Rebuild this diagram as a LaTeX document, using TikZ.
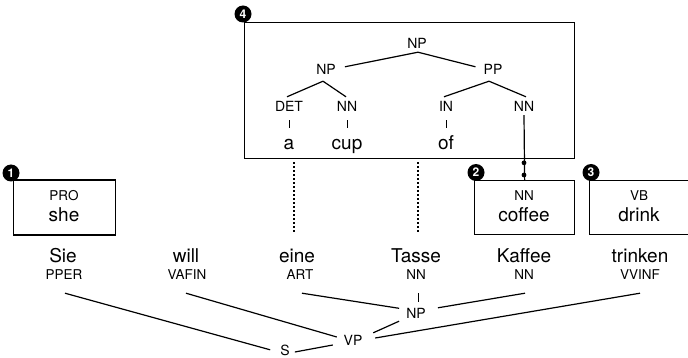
\documentclass[tikz,border=0pt]{standalone}
\usepackage{fontspec}
\setmainfont{TeX Gyre Heros}
\usetikzlibrary{calc}
\begin{document}
\begin{tikzpicture}[x=1pt,y=-1pt,
  word/.style={inner sep=0pt, anchor=base, font=\fontsize{19}{21}\selectfont, text height=14pt, text depth=4pt},
  tag/.style={inner sep=0pt, anchor=base, font=\fontsize{13.5}{15}\selectfont, text height=10pt, text depth=0pt},
  cat/.style={inner sep=0pt, anchor=base, font=\fontsize{14}{16}\selectfont, text height=10pt, text depth=0pt},
  edge/.style={line width=1.2pt},
  tick/.style={line width=1pt},
  dots/.style={line width=1.2pt, dash pattern=on 1.4pt off 2.6pt},
  frame/.style={draw, line width=1.3pt, inner sep=0pt, anchor=north west},
  badge/.style={circle, fill=black, text=white, inner sep=0pt, minimum size=17pt,
                font=\bfseries\fontsize{12}{12}\selectfont}]
\useasboundingbox (0,0) rectangle (688,358);

% ---- frames ----
\node[frame, minimum width=330pt, minimum height=136pt] (box4) at (244,22) {};
\node[frame, minimum width=102pt, minimum height=55pt] (box1) at (13,179.5) {};
\node[frame, minimum width=100pt, minimum height=54pt] (box2) at (474,180) {};
\node[frame, minimum width=100pt, minimum height=54pt] (box3) at (589,180) {};

% ---- English phrase tree ----
\node[cat] (npTop) at (417,49) {NP};
\node[cat] (npL) at (326,75) {NP};
\node[cat] (pp) at (493,75) {PP};
\node[cat] (det) at (289,112) {DET};
\node[cat] (nnA) at (347,112) {NN};
\node[cat] (in) at (446,112) {IN};
\node[cat] (nnB) at (524,112) {NN};
\node[word] (wa) at (289,150) {a};
\node[word] (wcup) at (347,150) {cup};
\node[word] (wof) at (446,150) {of};

\draw[edge] ($(npTop.south)+(1,3)$) -- ($(npL.north east)+(9,2)$);
\draw[edge] ($(npTop.south)+(1,3)$) -- ($(pp.north west)+(-8,2)$);
\draw[edge] ($(npL.south)+(-3,6)$) -- ($(det.north)+(-2,-5)$);
\draw[edge] ($(npL.south)+(-3,6)$) -- ($(nnA.north)+(-1,-5)$);
\draw[edge] ($(pp.south)+(-4,6)$) -- ($(in.north)+(-2,-5)$);
\draw[edge] ($(pp.south)+(-4,6)$) -- ($(nnB.north)+(2,-5)$);
\draw[tick] ($(det.south)+(0,8)$) -- ($(wa.north)+(0,-8)$);
\draw[tick] ($(nnA.south)+(0,8)$) -- ($(wcup.north)+(0,-8)$);
\draw[tick] ($(in.south)+(0,8)$) -- ($(wof.north)+(0,-8)$);

% link from the inner NN to the coffee box
\draw[edge] ($(nnB.south)+(0,3)$) -- (box2.north);
\fill ($(nnB.south |- box4.south)+(0,3.5)$) circle (2.4pt);
\fill ($(nnB.south |- box2.north)+(0,-5)$) circle (2.4pt);

% ---- box contents ----
\node[tag] (pro) at (64,201) {PRO};
\node[word] (she) at (64,221.5) {she};
\node[tag] (nnC) at (524,200.5) {NN};
\node[word] (coffee) at (524,221.5) {coffee};
\node[tag] (vb) at (639,200.5) {VB};
\node[word] (drink) at (639,221.5) {drink};

% ---- badges ----
\node[badge] (b1) at (11,173) {1};
\node[badge] (b2) at (476,172.5) {2};
\node[badge] (b3) at (591,172.5) {3};
\node[badge] (b4) at (243,14) {4};

% ---- German sentence ----
\node[word] (wSie) at (63,262) {Sie};
\node[word] (wWill) at (186,262) {will};
\node[word] (wEine) at (297,262) {eine};
\node[word] (wTasse) at (416,262) {Tasse};
\node[word] (wKaffee) at (524,262) {Kaffee};
\node[word] (wTrinken) at (640,262) {trinken};
\node[tag] (tSie) at (64,279) {PPER};
\node[tag] (tWill) at (187,279) {VAFIN};
\node[tag] (tEine) at (300,279) {ART};
\node[tag] (tTasse) at (416,279) {NN};
\node[tag] (tKaffee) at (524,279) {NN};
\node[tag] (tTrinken) at (640,279) {VVINF};

% dotted alignment lines
\draw[dots] ($(wEine.north |- box4.south)+(-3,3)$) -- ($(wEine.north)+(-3,-16)$);
\draw[dots] ($(wTasse.north |- box4.south)+(2,3)$) -- ($(wTasse.north)+(2,-16)$);

% ---- German phrase tree ----
\node[cat] (npB) at (416,318) {NP};
\node[cat] (vpB) at (353,345) {VP};
\node[cat] (sB) at (285,355.5) {S};

\draw[edge] ($(tEine.south)+(2,14)$) -- ($(npB.north west)+(-7,0.5)$);
\draw[edge] ($(tKaffee.south)+(1,14)$) -- ($(npB.north east)+(12,0)$);
\draw[tick] ($(tTasse.south)+(2,14)$) -- ($(npB.north)+(2,-6)$);
\draw[edge] ($(npB.south west)+(-7,3)$) -- ($(vpB.north east)+(10.7,-2)$);
\draw[edge] ($(tTrinken.south)+(0,14)$) -- ($(vpB.east)+(12.7,-2)$);
\draw[edge] ($(tWill.south)+(-1,14)$) -- ($(vpB.west)+(-6.7,-3)$);
\draw[edge] ($(tSie.south)+(1,14)$) -- ($(sB.north west)+(-10,4.5)$);
\draw[edge] ($(sB.east)+(5,1.5)$) -- ($(vpB.west)+(-10.7,5)$);
\end{tikzpicture}
\end{document}
